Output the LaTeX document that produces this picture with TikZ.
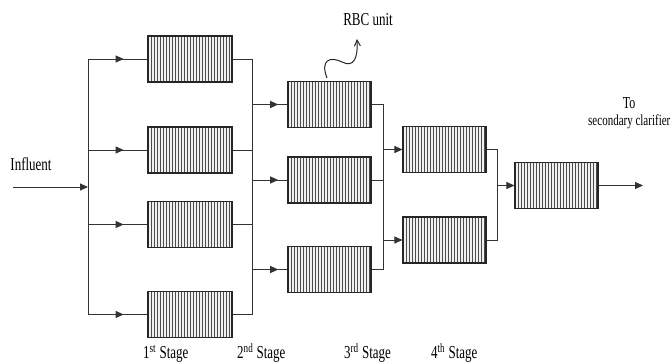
\documentclass[tikz,border=0pt]{standalone}
\usepackage{fontspec}
\setmainfont{Liberation Serif}
\usetikzlibrary{arrows.meta,decorations.markings}
\newcommand{\tallt}[1]{\scalebox{1}[1.4]{#1}}
\begin{document}
\begin{tikzpicture}[x=1pt,y=-1pt,
 line/.style={draw=black!80, line width=0.9pt},
 rbc/.style={draw=black!85, line width=1.1pt, fill=gray!12, minimum width=84pt, minimum height=46pt, inner sep=0pt,
   path picture={\foreach \k in {1,...,27}{\draw[black!70, line width=0.55pt] ([xshift=\k*3pt]path picture bounding box.south west) -- ([xshift=\k*3pt]path picture bounding box.north west);}}},
 tip/.style={-{Triangle[length=8pt,width=7pt]}},
 midarrow/.style={postaction={decorate}, decoration={markings, mark=at position #1 with {\arrow{Triangle[length=8pt,width=7pt]}}}},
 lbl/.style={font=\fontsize{13}{15}\selectfont, inner sep=0pt}
]
\useasboundingbox (0,0) rectangle (671,363);

% boxes
\node[rbc] (s1a) at (190,59) {};
\node[rbc] (s1b) at (190,150) {};
\node[rbc] (s1c) at (190,224.5) {};
\node[rbc] (s1d) at (190,314.5) {};
\node[rbc,minimum width=83pt] (s2a) at (329.5,104.5) {};
\node[rbc,minimum width=83pt] (s2b) at (329.5,180) {};
\node[rbc,minimum width=83pt] (s2c) at (329.5,269.5) {};
\node[rbc,minimum width=83pt] (s3a) at (444.5,149.5) {};
\node[rbc,minimum width=83pt] (s3b) at (444.5,240) {};
\node[rbc,minimum width=83pt] (s4) at (556.5,185.5) {};

% coordinates
\coordinate (in) at (13,187);
\coordinate (b1t) at (88,59);
\coordinate (b1b) at (88,314.5);
\coordinate (b2t) at (252,59);
\coordinate (b2b) at (252,314.5);
\coordinate (b3t) at (383,104.5);
\coordinate (b3b) at (383,269.5);
\coordinate (b4t) at (497,149.5);
\coordinate (b4b) at (497,240);
\coordinate (out) at (643,185.5);
\coordinate (rbcs) at (327,78);
\coordinate (rbce) at (357,39);

% influent and stage 1
\draw[line,tip] (in) -- (b1t |- in);
\draw[line] (b1t) -- (b1b);
\draw[line,midarrow=0.6] (b1t) -- (s1a.west);
\draw[line,midarrow=0.6] (b1t |- s1b.west) -- (s1b.west);
\draw[line,midarrow=0.6] (b1t |- s1c.west) -- (s1c.west);
\draw[line,midarrow=0.6] (b1b) -- (s1d.west);

% stage 1 -> 2
\draw[line] (s1a.east) -- (b2t) -- (b2b) -- (s1d.east);
\draw[line] (s1b.east) -- (b2t |- s1b.east);
\draw[line] (s1c.east) -- (b2t |- s1c.east);
\draw[line,midarrow=0.74] (b2t |- s2a.west) -- (s2a.west);
\draw[line,midarrow=0.74] (b2t |- s2b.west) -- (s2b.west);
\draw[line,midarrow=0.74] (b2t |- s2c.west) -- (s2c.west);

% stage 2 -> 3
\draw[line] (s2a.east) -- (b3t) -- (b3b) -- (s2c.east);
\draw[line] (s2b.east) -- (b3t |- s2b.east);
\draw[line,tip] (b3t |- s3a.west) -- (s3a.west);
\draw[line,tip] (b3t |- s3b.west) -- (s3b.west);

% stage 3 -> 4
\draw[line] (s3a.east) -- (b4t) -- (b4b) -- (s3b.east);
\draw[line,tip] (b4t |- s4.west) -- (s4.west);
\draw[line,tip] (s4.east) -- (out);

% RBC pointer
\draw[black!85, line width=1pt, -{Straight Barb[length=6pt,width=6pt]}]
  (rbcs) .. controls (320,60) and (330,56) .. (342,62) .. controls (354,68) and (358,58) .. (rbce);

% labels
\node[lbl] (influent) at (31,164) {\tallt{Influent}};
\node[lbl] (rbclabel) at (368,20) {\tallt{RBC unit}};
\node[lbl, font=\fontsize{12}{14}\selectfont] (to) at (629,103) {\tallt{To}};
\node[lbl, font=\fontsize{11}{13}\selectfont, anchor=west] (sec) at (588,122) {\tallt{secondary clarifier}};
\node[lbl, anchor=base west] (st1) at (143,358.5) {\tallt{1\textsuperscript{st} Stage}};
\node[lbl, anchor=base west] (st2) at (237,358.5) {\tallt{2\textsuperscript{nd} Stage}};
\node[lbl, anchor=base west] (st3) at (344,358.5) {\tallt{3\textsuperscript{rd} Stage}};
\node[lbl, anchor=base west] (st4) at (431,358.5) {\tallt{4\textsuperscript{th} Stage}};
\end{tikzpicture}
\end{document}
